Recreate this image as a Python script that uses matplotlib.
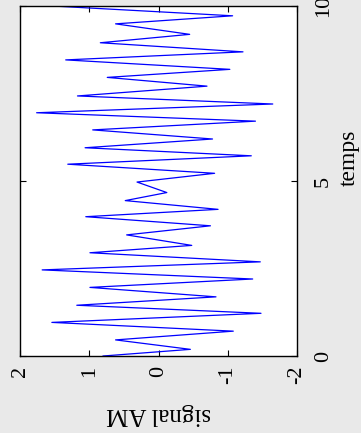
import matplotlib
matplotlib.use("Agg")
import matplotlib.pyplot as plt

plt.rcParams['font.family'] = ['Liberation Serif', 'DejaVu Serif']

# extrema of the AM signal (time, value)
temps = [0.0, 0.19, 0.46, 0.71, 0.96, 1.22, 1.45, 1.69, 1.96, 2.20,
         2.46, 2.69, 2.95, 3.16, 3.46, 3.72, 3.98, 4.19, 4.44, 4.67,
         4.97, 5.22, 5.48, 5.72, 5.95, 6.20, 6.46, 6.71, 6.95, 7.20,
         7.43, 7.71, 7.96, 8.19, 8.46, 8.69, 8.95, 9.19, 9.49, 9.72, 10.0]
signal = [0.80, -0.46, 0.62, -1.08, 1.54, -1.48, 1.18, -0.83, 0.99, -1.36,
          1.68, -1.47, 0.99, -0.48, 0.46, -0.75, 1.05, -0.86, 0.48, -0.12,
          0.31, -0.81, 1.31, -1.34, 1.06, -0.78, 0.95, -1.40, 1.76, -1.65,
          1.17, -0.70, 0.74, -1.03, 1.34, -1.22, 0.84, -0.45, 0.62, -1.07, 1.53]

amp_ticks = [2, 1, 0, -1, -2]
amp_labels = ['2', '1', '0', '-1', '-2']
t_ticks = [0, 5, 10]
t_labels = ['0', '5', '10']

fig = plt.figure(figsize=(3.61, 4.33), dpi=100, facecolor='#e9e9e9')
# figure is drawn rotated by 90 degrees, like the printed page
ax = fig.add_axes([20 / 361, (433 - 356) / 433, 277 / 361, 350 / 433])
ax.set_facecolor('white')

ax.plot(signal, temps, color='blue', lw=0.9)

ax.set_xlim(2, -2)
ax.set_ylim(0, 10)
ax.set_xticks(amp_ticks)
ax.set_xticklabels(amp_labels, rotation=90, fontsize=16)
ax.yaxis.tick_right()
ax.set_yticks(t_ticks)
ax.set_yticklabels(t_labels, rotation=90, va='center', fontsize=16)

ax.tick_params(direction='in', length=4, width=0.8, top=True, bottom=True,
               left=True, right=True, labelleft=False, labelright=True)
ax.tick_params(axis='x', pad=7)
ax.tick_params(axis='y', pad=12)
for s in ax.spines.values():
    s.set_linewidth(1.0)

ax.set_xlabel('signal AM', rotation=180, fontsize=18)
ax.xaxis.set_label_coords(0.5, -0.135)
ax.yaxis.set_label_position('right')
ax.set_ylabel('temps', rotation=90, fontsize=17)
ax.yaxis.set_label_coords(1.15, 0.565)

fig.savefig('out.png', dpi=100, facecolor=fig.get_facecolor())
